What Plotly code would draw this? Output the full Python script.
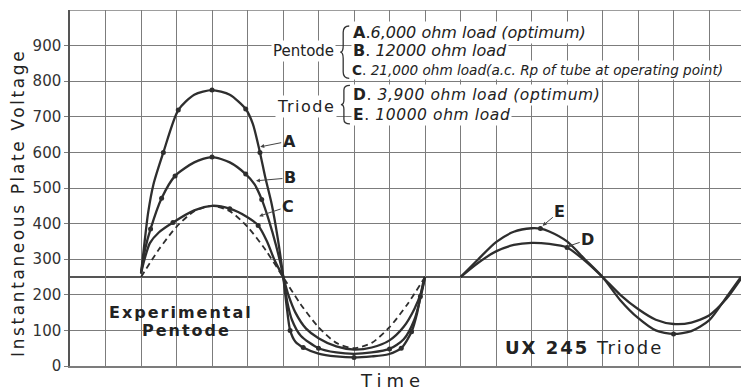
import plotly.graph_objects as go

# Time is measured in grid divisions, voltage in volts.
# Pentode curves (one full cycle from division 2 to division 10)
A_X = [2.0, 2.08, 2.2, 2.35, 2.63, 3.05, 3.5, 4.0, 4.5, 4.95, 5.15, 5.35, 5.5, 5.68, 5.85,
       6.0, 6.1, 6.2, 6.35, 6.57, 7.0, 7.5, 8.0, 8.5, 8.97, 9.33, 9.62, 9.78, 9.87, 9.95, 10.0]
A_V = [260, 330, 430, 510, 600, 719, 762, 775, 762, 722, 680, 600, 530, 455, 360,
       255, 170, 100, 68, 52, 35, 27, 24, 27, 33, 50, 96, 150, 195, 235, 250]
A_MARKS = [2.63, 3.05, 4.0, 4.95, 5.35, 6.2, 6.57, 8.0, 9.33, 9.62, 9.87]

B_X = [2.0, 2.12, 2.27, 2.58, 2.96, 3.5, 4.0, 4.5, 4.95, 5.2, 5.4, 5.6, 5.8, 6.0, 6.12,
       6.25, 6.5, 7.0, 7.5, 8.0, 8.5, 9.0, 9.4, 9.7, 9.88, 10.0]
B_V = [260, 330, 385, 471, 534, 572, 587, 572, 539, 510, 468, 410, 340, 255, 180,
       130, 85, 50, 38, 34, 38, 48, 75, 130, 195, 250]
B_MARKS = [2.27, 2.58, 2.96, 4.0, 4.95, 5.4, 7.0, 9.0]

C_X = [2.0, 2.1, 2.25, 2.5, 2.9, 3.5, 4.0, 4.5, 5.0, 5.3, 5.55, 5.75, 5.9, 6.0, 6.15,
       6.35, 6.65, 7.0, 7.5, 8.0, 8.5, 9.0, 9.4, 9.7, 9.9, 10.0]
C_V = [260, 300, 345, 375, 403, 437, 450, 442, 418, 395, 350, 300, 270, 250, 200,
       150, 105, 78, 55, 46, 52, 72, 110, 160, 210, 250]
C_MARKS = [2.9, 4.5, 5.3]

# Undistorted reference wave (dashed)
S_X = [2.0, 2.5, 3.0, 3.5, 4.0, 4.5, 5.0, 5.5, 6.0, 6.5, 7.0, 7.5, 8.0, 8.5, 9.0, 9.5, 10.0]
S_V = [250, 327, 391, 435, 450, 435, 391, 327, 250, 173, 109, 65, 50, 65, 109, 173, 250]

# Triode curves (division 11 to the right edge)
D_X = [11.0, 11.5, 12.0, 12.5, 13.0, 13.5, 14.0, 14.5, 15.0, 15.5, 16.0, 16.5, 17.0,
       17.5, 18.0, 18.5, 18.9]
D_V = [250, 290, 322, 340, 346, 343, 333, 296, 250, 200, 160, 130, 118,
       122, 142, 190, 245]
D_MARKS = [14.0]

E_X = [11.0, 11.5, 12.0, 12.5, 13.0, 13.25, 13.5, 14.0, 14.5, 15.0, 15.5, 16.0, 16.5,
       17.0, 17.5, 18.0, 18.5, 18.9]
E_V = [250, 300, 348, 377, 387, 386, 378, 350, 300, 250, 185, 135, 100,
       90, 98, 128, 195, 250]
E_MARKS = [13.25, 17.0]

Y_TICKS = [0, 100, 200, 300, 400, 500, 600, 700, 800, 900]
OPERATING_LEVEL = 250
Y_TOP = 1000
X_RIGHT = 18.9

INK = "#2e2e2e"
GRID = "#7c7c7c"
FONT = "DejaVu Sans"

fig = go.Figure()


def curve(x, v, dash="solid", width=2.3):
    fig.add_trace(go.Scatter(
        x=x, y=v, mode="lines",
        line=dict(color=INK, width=width, dash=dash, shape="spline", smoothing=0.7),
        hoverinfo="skip", showlegend=False))


def dots(x, v, marks):
    lookup = dict(zip(x, v))
    fig.add_trace(go.Scatter(
        x=marks, y=[lookup[m] for m in marks], mode="markers",
        marker=dict(color=INK, size=5), hoverinfo="skip", showlegend=False))


curve(S_X, S_V, dash="6px,4px", width=1.8)
for xs, vs, ms in [(A_X, A_V, A_MARKS), (B_X, B_V, B_MARKS), (C_X, C_V, C_MARKS),
                   (D_X, D_V, D_MARKS), (E_X, E_V, E_MARKS)]:
    curve(xs, vs)
    dots(xs, vs, ms)

# Top border and operating-point line
fig.add_shape(type="line", xref="paper", x0=0, x1=1, y0=Y_TOP, y1=Y_TOP,
              line=dict(color=GRID, width=1.5), layer="below")
fig.add_shape(type="line", xref="paper", x0=0, x1=1, y0=OPERATING_LEVEL, y1=OPERATING_LEVEL,
              line=dict(color="#555555", width=1.8), layer="below")


def brace(x, top, bottom, depth=0.17):
    """Thin curly brace opening to the right, drawn in axis units."""
    mid = (top + bottom) / 2
    r = (top - bottom) * 0.12
    xm = x - depth / 2
    path = (f"M {x + depth / 2},{top} Q {xm},{top} {xm},{top - r} "
            f"L {xm},{mid + r} Q {xm},{mid} {x - depth},{mid} "
            f"Q {xm},{mid} {xm},{mid - r} L {xm},{bottom + r} "
            f"Q {xm},{bottom} {x + depth / 2},{bottom}")
    fig.add_shape(type="path", path=path, line=dict(color="#333333", width=1.3))


brace(7.78, 955, 808)
brace(7.8, 788, 680)

ann = []


def spaced(s, px):
    return f'<span style="letter-spacing:{px}px">{s}</span>'


def text(x, y, s, size=15, xanchor="center", bold=False, bg=None, family=FONT, **kw):
    if bold:
        s = "<b>" + s + "</b>"
    d = dict(x=x, y=y, text=s, showarrow=False, xanchor=xanchor, yanchor="middle",
             font=dict(family=family, size=size, color="#222222"))
    if bg:
        d["bgcolor"] = bg
    d.update(kw)
    ann.append(d)


# Key
text(6.59, 885, "Pentode", size=15, bg="white")
text(7.92, 938, "<b>A</b>.<i>6,000 ohm load (optimum)</i>", size=16, xanchor="left", bg="white")
text(7.92, 885, "<b>B</b>. <i>12000 ohm load</i>", size=16, xanchor="left", bg="white")
text(7.88, 831, "<b>C</b>. <i>21,000 ohm load(a.c. Rp of tube at operating point)</i>", size=13.6,
     xanchor="left", bg="white")
text(6.65, 730, spaced("Triode", 1.5), size=16, bg="white")
text(7.92, 762, spaced("<b>D</b>. <i>3,900 ohm load (optimum)</i>", 0.6), size=15.5,
     xanchor="left", bg="white")
text(7.92, 706, spaced("<b>E</b>. <i>10000 ohm load</i>", 0.6), size=15.5,
     xanchor="left", bg="white")

# Curve labels with pointers
for lbl, x, y, ax, ay in [("A", 5.33, 615, 30, -6), ("B", 5.21, 520, 35, -3),
                          ("C", 5.3, 420, 30, -10), ("E", 13.29, 392, 18, -15),
                          ("D", 13.99, 335, 21, -7)]:
    ann.append(dict(x=x, y=y, text="<b>" + lbl + "</b>", showarrow=True, ax=ax, ay=ay,
                    arrowhead=2, arrowsize=0.8, arrowwidth=1, arrowcolor="#444444",
                    font=dict(family=FONT, size=16, color="#222222"), standoff=1))

text(3.13, 149, spaced("Experimental", 2), size=16, bold=True)
text(3.27, 101, spaced("Pentode", 2), size=16, bold=True)
text(14.48, 53, spaced("<b>UX 245</b> Triode", 2), size=18)

# Axis titles
text(0.48, -0.042, spaced("Time", 5), size=18, xref="paper", yref="paper")
text(-0.0775, 0.458, spaced("Instantaneous Plate Voltage", 2.6), size=17, xref="paper",
     yref="paper", textangle=-90)

fig.update_layout(
    width=741, height=392,
    margin=dict(l=70, r=0, t=10, b=26),
    paper_bgcolor="white", plot_bgcolor="white",
    annotations=ann,
    xaxis=dict(range=[0, X_RIGHT], tick0=0, dtick=1, showgrid=True, gridcolor=GRID, gridwidth=1,
               showticklabels=False, zeroline=False, showline=True, linecolor=GRID, linewidth=1.5,
               ticks=""),
    yaxis=dict(range=[0, Y_TOP], tickvals=Y_TICKS, showgrid=True, gridcolor=GRID, gridwidth=1,
               zeroline=False, showline=True, linecolor="#555555", linewidth=1.5,
               ticks="outside", ticklen=4, tickcolor=GRID,
               tickfont=dict(family=FONT, size=15, color="#333333")),
)

fig.write_html("out.html")
